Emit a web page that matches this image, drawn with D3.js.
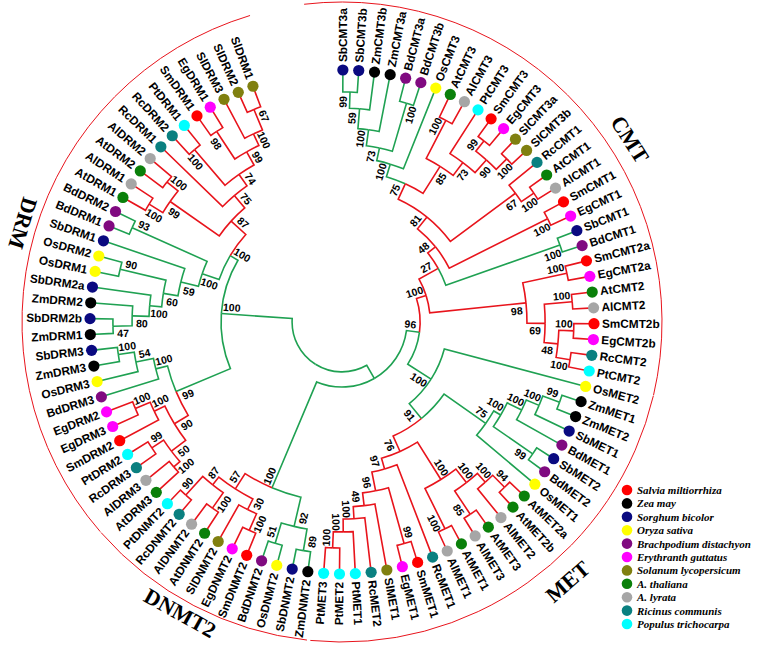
<!DOCTYPE html>
<html><head><meta charset="utf-8">
<script src="https://cdn.jsdelivr.net/npm/d3@7"></script>
<style>body{margin:0;background:#fff}svg{display:block}</style>
</head><body>
<svg id="chart" width="758" height="645"></svg>
<script>
// ---------------- DATA ----------------
// Tree topology: ")support[tag]:height" ; height = node distance from centre (leaves = 100)
// tag "d" marks mixed clades drawn in the dicot lineage colour.
const cmtTree =
 "((((((((((SbCMT3a,SbCMT3b)99:91.3,ZmCMT3b)59:84.9,ZmCMT3a)100:77,(BdCMT3a,BdCMT3b)100:90.5)73:70.6,OsCMT3)100:65.5," +
 "((AtCMT3,AlCMT3)100:90,(PtCMT3,((SmCMT3,EgCMT3)99:91.3,(SlCMT3a,SlCMT3b)100:92)90:86.1)73:79.4)85:73)75d:60.3," +
 "(RcCMT1,(AtCMT1,AlCMT1)100:91.7)67:85.7)81d:53.6,(SmCMT1,EgCMT1)100:91.3)48d:47.6,(SbCMT1,BdCMT1)100:91.7)27d:43.7," +
 "((SmCMT2a,EgCMT2a)100:91.3,((AtCMT2,AlCMT2)100:91.7,((SmCMT2b,EgCMT2b)100:92,(RcCMT2,PtCMT2)100:91.7)48:86.1)69:80.6)98:73.4)100d:35";
const metTree =
 "(OsMET2,((((((ZmMET1,ZmMET2)99:92,SbMET1)100:84.9,BdMET1)100:79.4,(SbMET2,BdMET2)99:92)100:73,OsMET1)75:69.8," +
 "(((((AtMET2a,AtMET2b)94:92,AlMET2)100:85.3,(AtMET3,AlMET3)85:91.7)100:80.6,(AtMET1,AlMET1)100:91.7)100:73.8," +
 "(RcMET1,((SmMET1,EgMET1)99:91.3,(SlMET1,(RcMET2,(PtMET1,(PtMET2,PtMET3)100:89.7)100:83.3)100:78.2)49:73.4)96:68.3)97:60.7)76:56.3)91:49.6)100:42";
const dnmt2Tree =
 "(((ZmDNMT2,SbDNMT2)89:92,(OsDNMT2,BdDNMT2)51:91.7)92:83.3,(((SmDNMT2,EgDNMT2)100:90.5,SlDNMT2)30:83.3," +
 "((AtDNMT2,AlDNMT2)100:90,(RcDNMT2,PtDNMT2)90:92.5)87:82.5)57:78.6)100:71.4";
const drmTree =
 "(((((AtDRM3,AlDRM3)100:88.1,(RcDRM3,PtDRM2)99:90.5)50:84.9,(SmDRM2,(EgDRM3,EgDRM2)100:88.9)100:82.5)90:77.8," +
 "(BdDRM3,(OsDRM3,(ZmDRM3,SbDRM3)100:89.7)54:83.3)100:76.2)99:71.4," +
 "(((((((ZmDRM1,SbDRM2b)47:90.9,ZmDRM2)80:83.3,SbDRM2a)100:76.6,(OsDRM1,OsDRM2)90:90.5)60:71.8,SbDRM1)59:65.9,(BdDRM1,BdDRM2)93:91.3)100:58.7," +
 "(((AtDRM1,AlDRM1)100:89.7,(AtDRM2,AlDRM2)100:88.9)99:83.3,(RcDRM1,((RcDRM2,PtDRM1)100:90,((SmDRM1,EgDRM1)98:90.5," +
 "(SlDRM3,(SlDRM2,SlDRM1)67:91.3)100:82.5)99:77.4)74:71.4)75:65.9)87:59.5)100:51.6)100:48";
const newick = "(((" + cmtTree + "," + metTree + ")96:31," + dnmt2Tree + "):25.8," + drmTree + "):19.8;";

const speciesCodes = ["Sm","Zm","Sb","Os","Bd","Eg","Sl","At","Al","Rc","Pt"];
const speciesNames = ["Salvia miltiorrhiza","Zea may","Sorghum bicolor","Oryza sativa","Brachpodium distachyon",
  "Erythranth guttatus","Solanum lycopersicum","A. thaliana","A. lyrata","Ricinus communis","Populus trichocarpa"];
const monocots = ["Zm","Sb","Os","Bd"];
const groups = ["CMT","MET","DNMT2","DRM"];
const groupFirst = ["SbCMT3a","OsMET2","ZmDNMT2","AtDRM3"];
const groupLast  = ["PtCMT2","PtMET3","PtDNMT2","SlDRM1"];

// ---------------- PARSER ----------------
function parseNewick(s){
  let i = 0;
  function node(){
    const n = {};
    if (s[i] === "("){
      i++; n.children = [node()];
      while (s[i] === ","){ i++; n.children.push(node()); }
      i++;
    }
    let name = "";
    while (i < s.length && !",():;".includes(s[i])) name += s[i++];
    if (s[i] === ":"){ i++; let v = ""; while (i < s.length && !",();".includes(s[i])) v += s[i++]; n.height = +v; }
    if (n.children){ const m = name.match(/^(\d*)([md]?)$/); n.support = m[1]; n.tag = m[2]; }
    else n.name = name;
    return n;
  }
  return node();
}

// ---------------- LAYOUT ----------------
const svg = d3.select("#chart");
const cx = 342, cy = 322, rad = Math.PI/180;
const rLeaf = 252;
const rScale = d3.scaleLinear().domain([0,100]).range([0,rLeaf]);
const root = d3.hierarchy(parseNewick(newick), d => d.children);
const leaves = root.leaves();
const angle = d3.scaleLinear().domain([0, leaves.length-1]).range([-89.8, 249.3]);
leaves.forEach((l,i) => l.a = angle(i));
root.eachAfter(n => {
  if (n.children) n.a = d3.mean(n.children, c => c.a);
  n.r = rScale(n.children ? n.data.height : 100);
  const lins = new Set(n.leaves().map(l => monocots.includes(l.data.name.slice(0,2)) ? "m" : "d"));
  n.lin = lins.size === 1 ? [...lins][0] : (n.data.tag || "m");
});
const pt = (a, r) => [cx + r*Math.cos(a*rad), cy + r*Math.sin(a*rad)];
const lineColor = {m:"#1fa152", d:"#e8141c"};
const color = d3.scaleOrdinal().domain(speciesCodes)
  .range(["#ff0000","#000000","#0a0a80","#ffff00","#800a80","#ff00ff","#808010","#0a800a","#a6a6a6","#0a8080","#00ffff"]);

// ---------------- BRANCHES ----------------
const links = root.descendants().filter(n => n.parent);
svg.append("g").selectAll("path").data(links).join("path")
  .attr("d", n => {
    const p = d3.path(), q = n.parent;
    p.moveTo(...pt(q.a, q.r));
    p.arc(cx, cy, q.r, q.a*rad, n.a*rad, n.a < q.a);
    p.lineTo(...pt(n.a, n.r));
    return p.toString();
  })
  .attr("fill","none").attr("stroke", n => lineColor[n.lin]).attr("stroke-width",1.6);

// ---------------- LEAVES ----------------
const lg = svg.append("g");
lg.selectAll("circle").data(leaves).join("circle")
  .attr("cx", l => pt(l.a, rLeaf)[0]).attr("cy", l => pt(l.a, rLeaf)[1]).attr("r", 5.6)
  .attr("fill", l => color(l.data.name.slice(0,2)));
lg.selectAll("text").data(leaves).join("text")
  .each(function(l){
    const flip = Math.cos(l.a*rad) < 0, [x,y] = pt(l.a, rLeaf+8);
    d3.select(this).attr("x",x).attr("y",y)
      .attr("transform",`rotate(${flip ? l.a+180 : l.a},${x},${y})`)
      .attr("text-anchor", flip ? "end" : "start");
  })
  .attr("dominant-baseline","central")
  .attr("font-family","'Liberation Sans',Arial,sans-serif").attr("font-weight","bold").attr("font-size",11.8)
  .text(l => l.data.name);

// ---------------- BOOTSTRAP ----------------
const boot = root.descendants().filter(n => n.parent && n.children && n.data.support);
svg.append("g").selectAll("text").data(boot).join("text")
  .each(function(n){
    const side = n.a >= n.parent.a ? 1 : -1;
    const [x0,y0] = pt(n.a, n.r - 10);
    const x = x0 - 7*side*Math.sin(n.a*rad), y = y0 + 7*side*Math.cos(n.a*rad);
    const flip = Math.cos(n.a*rad) < 0;
    d3.select(this).attr("x",x).attr("y",y)
      .attr("transform",`rotate(${flip ? n.a+180 : n.a},${x},${y})`);
  })
  .attr("text-anchor","middle").attr("dominant-baseline","central")
  .attr("font-family","'Liberation Sans',Arial,sans-serif").attr("font-weight","bold").attr("font-size",10.5)
  .text(n => n.data.support);

// ---------------- GROUP ARCS ----------------
const rGroup = 320;
const byName = new Map(leaves.map(l => [l.data.name, l]));
const pads = [[7,2],[1.5,1.5],[1.5,5],[-1.6,4]];
const labelShift = [9.4,-5.5,1.5,1];
const labelR = [341,344,333,334];
groups.forEach((g,i) => {
  const a0 = byName.get(groupFirst[i]).a - pads[i][0], a1 = byName.get(groupLast[i]).a + pads[i][1];
  const p = d3.path(); p.moveTo(...pt(a0, rGroup)); p.arc(cx, cy, rGroup, a0*rad, a1*rad, false);
  svg.append("path").attr("d", p.toString()).attr("fill","none").attr("stroke","#e8141c").attr("stroke-width",1);
  const am = (a0+a1)/2 + labelShift[i];
  const [x,y] = pt(am, labelR[i]);
  svg.append("text").attr("x",x).attr("y",y)
    .attr("transform",`rotate(${am < 0 ? am+90 : am-90},${x},${y})`)
    .attr("text-anchor","middle").attr("dominant-baseline","central")
    .attr("font-family","'Liberation Serif','Times New Roman',serif").attr("font-weight","bold").attr("font-size",22)
    .text(g);
});

// ---------------- LEGEND ----------------
const leg = svg.append("g").selectAll("g").data(speciesCodes).join("g")
  .attr("transform",(d,i) => `translate(627,${490 + i*13.4})`);
leg.append("circle").attr("r",5.3).attr("fill", d => color(d));
leg.append("text").attr("x",10).attr("dominant-baseline","central")
  .attr("font-family","'Liberation Serif','Times New Roman',serif").attr("font-weight","bold").attr("font-style","italic")
  .attr("font-size",11).text((d,i) => speciesNames[i]);
</script>
</body></html>
